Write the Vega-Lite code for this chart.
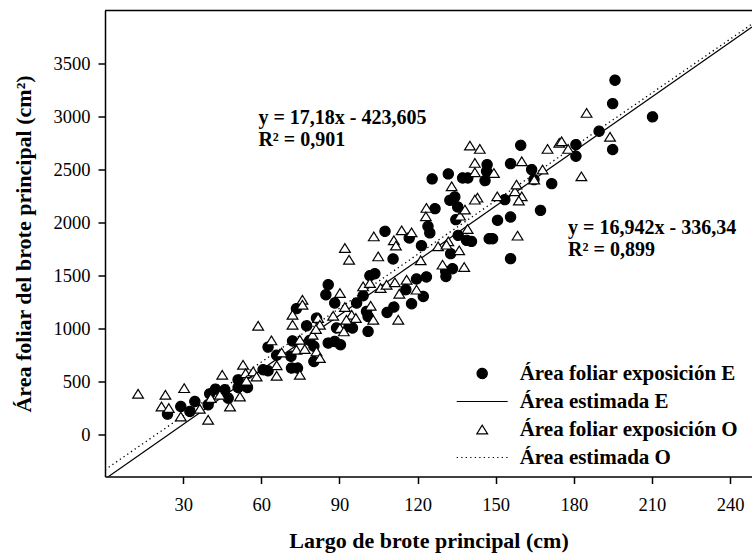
{
  "$schema": "https://vega.github.io/schema/vega-lite/v6.json",
  "width": 647,
  "height": 466,
  "autosize": "none",
  "padding": {"left": 105, "top": 10.5, "right": 0, "bottom": 78.5},
  "background": "white",
  "config": {
    "view": {"stroke": null},
    "font": "Liberation Serif",
    "axis": {
      "grid": false,
      "domainColor": "black",
      "domainWidth": 1.5,
      "tickColor": "black",
      "tickWidth": 1.5,
      "tickSize": 7,
      "labelColor": "black",
      "labelFont": "Liberation Serif",
      "labelFontSize": 18.5,
      "titleColor": "black",
      "titleFont": "Liberation Serif",
      "titleFontSize": 22,
      "titleFontWeight": "bold"
    },
    "legend": {
      "title": null,
      "padding": 0,
      "clipHeight": 22,
      "rowPadding": 6,
      "labelOffset": 11,
      "labelFont": "Liberation Serif",
      "labelFontSize": 21,
      "labelFontWeight": "bold",
      "labelColor": "black",
      "labelLimit": 0,
      "symbolStrokeColor": "black",
      "symbolStrokeWidth": 1.2,
      "symbolSize": 2600,
      "symbolOpacity": 1
    }
  },
  "datasets": {
    "puntos": [
      {"largo": 24.0, "area": 189, "serie": "Área foliar exposición E"},
      {"largo": 29.1, "area": 261, "serie": "Área foliar exposición E"},
      {"largo": 32.6, "area": 214, "serie": "Área foliar exposición E"},
      {"largo": 34.5, "area": 308, "serie": "Área foliar exposición E"},
      {"largo": 39.6, "area": 277, "serie": "Área foliar exposición E"},
      {"largo": 40.2, "area": 381, "serie": "Área foliar exposición E"},
      {"largo": 42.4, "area": 425, "serie": "Área foliar exposición E"},
      {"largo": 46.0, "area": 419, "serie": "Área foliar exposición E"},
      {"largo": 47.3, "area": 340, "serie": "Área foliar exposición E"},
      {"largo": 51.1, "area": 513, "serie": "Área foliar exposición E"},
      {"largo": 51.1, "area": 440, "serie": "Área foliar exposición E"},
      {"largo": 54.7, "area": 440, "serie": "Área foliar exposición E"},
      {"largo": 60.7, "area": 608, "serie": "Área foliar exposición E"},
      {"largo": 62.6, "area": 598, "serie": "Área foliar exposición E"},
      {"largo": 62.6, "area": 822, "serie": "Área foliar exposición E"},
      {"largo": 65.9, "area": 745, "serie": "Área foliar exposición E"},
      {"largo": 71.6, "area": 624, "serie": "Área foliar exposición E"},
      {"largo": 73.9, "area": 624, "serie": "Área foliar exposición E"},
      {"largo": 80.2, "area": 686, "serie": "Área foliar exposición E"},
      {"largo": 71.4, "area": 735, "serie": "Área foliar exposición E"},
      {"largo": 72.0, "area": 880, "serie": "Área foliar exposición E"},
      {"largo": 78.6, "area": 885, "serie": "Área foliar exposición E"},
      {"largo": 80.2, "area": 830, "serie": "Área foliar exposición E"},
      {"largo": 85.7, "area": 860, "serie": "Área foliar exposición E"},
      {"largo": 88.2, "area": 875, "serie": "Área foliar exposición E"},
      {"largo": 90.4, "area": 844, "serie": "Área foliar exposición E"},
      {"largo": 73.5, "area": 1185, "serie": "Área foliar exposición E"},
      {"largo": 77.4, "area": 1023, "serie": "Área foliar exposición E"},
      {"largo": 81.2, "area": 1096, "serie": "Área foliar exposición E"},
      {"largo": 84.8, "area": 1316, "serie": "Área foliar exposición E"},
      {"largo": 85.7, "area": 1411, "serie": "Área foliar exposición E"},
      {"largo": 88.2, "area": 1238, "serie": "Área foliar exposición E"},
      {"largo": 88.9, "area": 1002, "serie": "Área foliar exposición E"},
      {"largo": 93.7, "area": 1017, "serie": "Área foliar exposición E"},
      {"largo": 95.0, "area": 1002, "serie": "Área foliar exposición E"},
      {"largo": 96.6, "area": 1238, "serie": "Área foliar exposición E"},
      {"largo": 99.1, "area": 1307, "serie": "Área foliar exposición E"},
      {"largo": 100.4, "area": 1159, "serie": "Área foliar exposición E"},
      {"largo": 101.0, "area": 1111, "serie": "Área foliar exposición E"},
      {"largo": 101.0, "area": 970, "serie": "Área foliar exposición E"},
      {"largo": 101.7, "area": 1496, "serie": "Área foliar exposición E"},
      {"largo": 103.6, "area": 1515, "serie": "Área foliar exposición E"},
      {"largo": 107.5, "area": 1915, "serie": "Área foliar exposición E"},
      {"largo": 108.3, "area": 1149, "serie": "Área foliar exposición E"},
      {"largo": 110.9, "area": 1200, "serie": "Área foliar exposición E"},
      {"largo": 110.6, "area": 1654, "serie": "Área foliar exposición E"},
      {"largo": 115.5, "area": 1364, "serie": "Área foliar exposición E"},
      {"largo": 116.8, "area": 1852, "serie": "Área foliar exposición E"},
      {"largo": 117.7, "area": 1231, "serie": "Área foliar exposición E"},
      {"largo": 119.6, "area": 1465, "serie": "Área foliar exposición E"},
      {"largo": 121.5, "area": 1780, "serie": "Área foliar exposición E"},
      {"largo": 122.2, "area": 1300, "serie": "Área foliar exposición E"},
      {"largo": 123.4, "area": 1484, "serie": "Área foliar exposición E"},
      {"largo": 124.0, "area": 1962, "serie": "Área foliar exposición E"},
      {"largo": 124.7, "area": 1900, "serie": "Área foliar exposición E"},
      {"largo": 125.6, "area": 2410, "serie": "Área foliar exposición E"},
      {"largo": 126.7, "area": 2129, "serie": "Área foliar exposición E"},
      {"largo": 130.8, "area": 1537, "serie": "Área foliar exposición E"},
      {"largo": 130.9, "area": 1489, "serie": "Área foliar exposición E"},
      {"largo": 131.8, "area": 2457, "serie": "Área foliar exposición E"},
      {"largo": 132.4, "area": 2208, "serie": "Área foliar exposición E"},
      {"largo": 132.7, "area": 1704, "serie": "Área foliar exposición E"},
      {"largo": 133.4, "area": 1562, "serie": "Área foliar exposición E"},
      {"largo": 134.3, "area": 2240, "serie": "Área foliar exposición E"},
      {"largo": 134.7, "area": 2025, "serie": "Área foliar exposición E"},
      {"largo": 135.4, "area": 2145, "serie": "Área foliar exposición E"},
      {"largo": 135.6, "area": 1877, "serie": "Área foliar exposición E"},
      {"largo": 137.3, "area": 2419, "serie": "Área foliar exposición E"},
      {"largo": 139.3, "area": 2419, "serie": "Área foliar exposición E"},
      {"largo": 138.8, "area": 1830, "serie": "Área foliar exposición E"},
      {"largo": 140.7, "area": 1820, "serie": "Área foliar exposición E"},
      {"largo": 146.7, "area": 2545, "serie": "Área foliar exposición E"},
      {"largo": 146.5, "area": 2482, "serie": "Área foliar exposición E"},
      {"largo": 145.9, "area": 2394, "serie": "Área foliar exposición E"},
      {"largo": 147.5, "area": 1845, "serie": "Área foliar exposición E"},
      {"largo": 148.8, "area": 1845, "serie": "Área foliar exposición E"},
      {"largo": 150.7, "area": 2019, "serie": "Área foliar exposición E"},
      {"largo": 153.5, "area": 2214, "serie": "Área foliar exposición E"},
      {"largo": 155.7, "area": 2554, "serie": "Área foliar exposición E"},
      {"largo": 155.7, "area": 2050, "serie": "Área foliar exposición E"},
      {"largo": 155.7, "area": 1657, "serie": "Área foliar exposición E"},
      {"largo": 159.6, "area": 2727, "serie": "Área foliar exposición E"},
      {"largo": 163.8, "area": 2498, "serie": "Área foliar exposición E"},
      {"largo": 164.7, "area": 2403, "serie": "Área foliar exposición E"},
      {"largo": 167.2, "area": 2113, "serie": "Área foliar exposición E"},
      {"largo": 171.5, "area": 2365, "serie": "Área foliar exposición E"},
      {"largo": 180.8, "area": 2734, "serie": "Área foliar exposición E"},
      {"largo": 180.8, "area": 2624, "serie": "Área foliar exposición E"},
      {"largo": 189.7, "area": 2860, "serie": "Área foliar exposición E"},
      {"largo": 194.9, "area": 3121, "serie": "Área foliar exposición E"},
      {"largo": 195.8, "area": 3342, "serie": "Área foliar exposición E"},
      {"largo": 194.9, "area": 2687, "serie": "Área foliar exposición E"},
      {"largo": 210.2, "area": 2996, "serie": "Área foliar exposición E"},
      {"largo": 12.7, "area": 381, "serie": "Área foliar exposición O"},
      {"largo": 23.2, "area": 371, "serie": "Área foliar exposición O"},
      {"largo": 21.7, "area": 261, "serie": "Área foliar exposición O"},
      {"largo": 24.5, "area": 246, "serie": "Área foliar exposición O"},
      {"largo": 30.4, "area": 434, "serie": "Área foliar exposición O"},
      {"largo": 29.1, "area": 166, "serie": "Área foliar exposición O"},
      {"largo": 36.4, "area": 239, "serie": "Área foliar exposición O"},
      {"largo": 39.6, "area": 135, "serie": "Área foliar exposición O"},
      {"largo": 45.0, "area": 560, "serie": "Área foliar exposición O"},
      {"largo": 40.6, "area": 340, "serie": "Área foliar exposición O"},
      {"largo": 44.1, "area": 371, "serie": "Área foliar exposición O"},
      {"largo": 48.0, "area": 261, "serie": "Área foliar exposición O"},
      {"largo": 51.8, "area": 355, "serie": "Área foliar exposición O"},
      {"largo": 53.0, "area": 655, "serie": "Área foliar exposición O"},
      {"largo": 54.0, "area": 575, "serie": "Área foliar exposición O"},
      {"largo": 54.3, "area": 505, "serie": "Área foliar exposición O"},
      {"largo": 56.9, "area": 592, "serie": "Área foliar exposición O"},
      {"largo": 58.2, "area": 544, "serie": "Área foliar exposición O"},
      {"largo": 58.8, "area": 1023, "serie": "Área foliar exposición O"},
      {"largo": 63.9, "area": 885, "serie": "Área foliar exposición O"},
      {"largo": 67.8, "area": 771, "serie": "Área foliar exposición O"},
      {"largo": 65.9, "area": 650, "serie": "Área foliar exposición O"},
      {"largo": 65.9, "area": 551, "serie": "Área foliar exposición O"},
      {"largo": 72.0, "area": 1127, "serie": "Área foliar exposición O"},
      {"largo": 72.0, "area": 1033, "serie": "Área foliar exposición O"},
      {"largo": 75.8, "area": 1269, "serie": "Área foliar exposición O"},
      {"largo": 75.8, "area": 1222, "serie": "Área foliar exposición O"},
      {"largo": 74.8, "area": 891, "serie": "Área foliar exposición O"},
      {"largo": 73.5, "area": 797, "serie": "Área foliar exposición O"},
      {"largo": 76.7, "area": 803, "serie": "Área foliar exposición O"},
      {"largo": 81.2, "area": 781, "serie": "Área foliar exposición O"},
      {"largo": 82.5, "area": 718, "serie": "Área foliar exposición O"},
      {"largo": 74.8, "area": 560, "serie": "Área foliar exposición O"},
      {"largo": 81.8, "area": 1096, "serie": "Área foliar exposición O"},
      {"largo": 82.5, "area": 1033, "serie": "Área foliar exposición O"},
      {"largo": 79.7, "area": 938, "serie": "Área foliar exposición O"},
      {"largo": 81.0, "area": 992, "serie": "Área foliar exposición O"},
      {"largo": 87.6, "area": 1118, "serie": "Área foliar exposición O"},
      {"largo": 90.2, "area": 1002, "serie": "Área foliar exposición O"},
      {"largo": 91.7, "area": 970, "serie": "Área foliar exposición O"},
      {"largo": 90.2, "area": 1332, "serie": "Área foliar exposición O"},
      {"largo": 92.1, "area": 1200, "serie": "Área foliar exposición O"},
      {"largo": 94.7, "area": 1127, "serie": "Área foliar exposición O"},
      {"largo": 96.3, "area": 1096, "serie": "Área foliar exposición O"},
      {"largo": 92.7, "area": 1080, "serie": "Área foliar exposición O"},
      {"largo": 92.1, "area": 1758, "serie": "Área foliar exposición O"},
      {"largo": 93.7, "area": 1647, "serie": "Área foliar exposición O"},
      {"largo": 99.1, "area": 1395, "serie": "Área foliar exposición O"},
      {"largo": 101.7, "area": 1427, "serie": "Área foliar exposición O"},
      {"largo": 102.0, "area": 1212, "serie": "Área foliar exposición O"},
      {"largo": 103.0, "area": 1080, "serie": "Área foliar exposición O"},
      {"largo": 103.2, "area": 1867, "serie": "Área foliar exposición O"},
      {"largo": 104.9, "area": 1678, "serie": "Área foliar exposición O"},
      {"largo": 105.8, "area": 1380, "serie": "Área foliar exposición O"},
      {"largo": 108.1, "area": 1411, "serie": "Área foliar exposición O"},
      {"largo": 110.9, "area": 1830, "serie": "Área foliar exposición O"},
      {"largo": 111.7, "area": 1780, "serie": "Área foliar exposición O"},
      {"largo": 111.3, "area": 1433, "serie": "Área foliar exposición O"},
      {"largo": 112.6, "area": 1080, "serie": "Área foliar exposición O"},
      {"largo": 113.0, "area": 1326, "serie": "Área foliar exposición O"},
      {"largo": 113.9, "area": 1924, "serie": "Área foliar exposición O"},
      {"largo": 115.8, "area": 1458, "serie": "Área foliar exposición O"},
      {"largo": 117.7, "area": 1905, "serie": "Área foliar exposición O"},
      {"largo": 119.6, "area": 1364, "serie": "Área foliar exposición O"},
      {"largo": 121.2, "area": 1641, "serie": "Área foliar exposición O"},
      {"largo": 123.4, "area": 2136, "serie": "Área foliar exposición O"},
      {"largo": 123.2, "area": 2056, "serie": "Área foliar exposición O"},
      {"largo": 127.9, "area": 1773, "serie": "Área foliar exposición O"},
      {"largo": 129.6, "area": 1600, "serie": "Área foliar exposición O"},
      {"largo": 131.8, "area": 1820, "serie": "Área foliar exposición O"},
      {"largo": 131.1, "area": 1789, "serie": "Área foliar exposición O"},
      {"largo": 133.1, "area": 2340, "serie": "Área foliar exposición O"},
      {"largo": 136.0, "area": 1735, "serie": "Área foliar exposición O"},
      {"largo": 136.3, "area": 2063, "serie": "Área foliar exposición O"},
      {"largo": 137.9, "area": 1578, "serie": "Área foliar exposición O"},
      {"largo": 138.2, "area": 2120, "serie": "Área foliar exposición O"},
      {"largo": 139.2, "area": 1937, "serie": "Área foliar exposición O"},
      {"largo": 140.1, "area": 2724, "serie": "Área foliar exposición O"},
      {"largo": 143.9, "area": 2693, "serie": "Área foliar exposición O"},
      {"largo": 142.0, "area": 2561, "serie": "Área foliar exposición O"},
      {"largo": 142.0, "area": 2472, "serie": "Área foliar exposición O"},
      {"largo": 143.0, "area": 2233, "serie": "Área foliar exposición O"},
      {"largo": 142.0, "area": 2214, "serie": "Área foliar exposición O"},
      {"largo": 149.3, "area": 2466, "serie": "Área foliar exposición O"},
      {"largo": 150.6, "area": 2245, "serie": "Área foliar exposición O"},
      {"largo": 157.4, "area": 2293, "serie": "Área foliar exposición O"},
      {"largo": 160.0, "area": 2245, "serie": "Área foliar exposición O"},
      {"largo": 158.9, "area": 2205, "serie": "Área foliar exposición O"},
      {"largo": 158.4, "area": 1874, "serie": "Área foliar exposición O"},
      {"largo": 158.0, "area": 2356, "serie": "Área foliar exposición O"},
      {"largo": 160.0, "area": 2576, "serie": "Área foliar exposición O"},
      {"largo": 164.8, "area": 2403, "serie": "Área foliar exposición O"},
      {"largo": 168.0, "area": 2498, "serie": "Área foliar exposición O"},
      {"largo": 169.9, "area": 2693, "serie": "Área foliar exposición O"},
      {"largo": 174.4, "area": 2750, "serie": "Área foliar exposición O"},
      {"largo": 175.3, "area": 2765, "serie": "Área foliar exposición O"},
      {"largo": 177.8, "area": 2693, "serie": "Área foliar exposición O"},
      {"largo": 182.9, "area": 2434, "serie": "Área foliar exposición O"},
      {"largo": 184.9, "area": 3033, "serie": "Área foliar exposición O"},
      {"largo": 193.9, "area": 2807, "serie": "Área foliar exposición O"}
    ],
    "lineaE": [
      {"largo": 0, "area": -423.605},
      {"largo": 248.4, "area": 3843.9}
    ],
    "lineaO": [
      {"largo": 0, "area": -336.34},
      {"largo": 248.4, "area": 3872.0}
    ]
  },
  "layer": [
    {
      "data": {"values": [{}]},
      "mark": {"type": "rule", "color": "black", "strokeWidth": 1.5},
      "encoding": {
        "y": {"datum": 4000, "type": "quantitative", "scale": {"domain": [-400, 4000], "nice": false, "zero": false}}
      }
    },
    {
      "data": {"name": "lineaE"},
      "mark": {"type": "line", "color": "black", "strokeWidth": 1.2, "clip": true},
      "encoding": {
        "x": {"field": "largo", "type": "quantitative"},
        "y": {"field": "area", "type": "quantitative"}
      }
    },
    {
      "data": {"name": "lineaO"},
      "mark": {"type": "line", "color": "black", "strokeWidth": 1.3, "strokeDash": [1.3, 3.2], "clip": true},
      "encoding": {
        "x": {"field": "largo", "type": "quantitative"},
        "y": {"field": "area", "type": "quantitative"}
      }
    },
    {
      "data": {"name": "puntos"},
      "mark": {"type": "point", "filled": true, "size": 2600, "opacity": 1, "strokeWidth": 1.2},
      "encoding": {
        "x": {
          "field": "largo", "type": "quantitative",
          "scale": {"domain": [0, 248.4], "nice": false, "zero": false},
          "axis": {"values": [30, 60, 90, 120, 150, 180, 210, 240], "title": "Largo de brote principal (cm)", "labelPadding": 12, "titlePadding": 16}
        },
        "y": {
          "field": "area", "type": "quantitative",
          "scale": {"domain": [-400, 4000], "nice": false, "zero": false},
          "axis": {"values": [0, 500, 1000, 1500, 2000, 2500, 3000, 3500], "format": "d", "title": "Área foliar del brote principal (cm²)", "labelPadding": 8, "titlePadding": 18}
        },
        "shape": {
          "field": "serie", "type": "nominal",
          "scale": {
            "domain": ["Área foliar exposición E", "Área estimada E", "Área foliar exposición O", "Área estimada O"],
            "range": ["M-0.2,0A0.2,0.2,0,1,0,0.2,0A0.2,0.2,0,1,0,-0.2,0Z", "M-1,0L1,0", "M0,-0.17L0.21,0.17L-0.21,0.17Z", "M-1,0L1,0"]
          },
          "legend": {"orient": "none", "legendX": 350.7, "legendY": 352}
        },
        "fill": {
          "field": "serie", "type": "nominal",
          "scale": {
            "domain": ["Área foliar exposición E", "Área estimada E", "Área foliar exposición O", "Área estimada O"],
            "range": ["black", "transparent", "white", "transparent"]
          },
          "legend": {"orient": "none", "legendX": 350.7, "legendY": 352}
        },
        "stroke": {
          "field": "serie", "type": "nominal",
          "scale": {
            "domain": ["Área foliar exposición E", "Área estimada E", "Área foliar exposición O", "Área estimada O"],
            "range": ["black", "black", "black", "black"]
          },
          "legend": {"orient": "none", "legendX": 350.7, "legendY": 352}
        },
        "strokeDash": {
          "field": "serie", "type": "nominal",
          "scale": {
            "domain": ["Área foliar exposición E", "Área estimada E", "Área foliar exposición O", "Área estimada O"],
            "range": [[1, 0], [1, 0], [1, 0], [1.3, 3.2]]
          },
          "legend": {"orient": "none", "legendX": 350.7, "legendY": 352}
        }
      }
    },
    {
      "data": {"values": [{}]},
      "mark": {"type": "text", "align": "left", "baseline": "middle", "font": "Liberation Serif", "fontWeight": "bold", "fontSize": 20, "color": "black"},
      "encoding": {
        "x": {"datum": 58.9, "type": "quantitative"},
        "y": {"datum": 2989, "type": "quantitative"},
        "text": {"value": "y = 17,18x - 423,605"}
      }
    },
    {
      "data": {"values": [{}]},
      "mark": {"type": "text", "align": "left", "baseline": "middle", "font": "Liberation Serif", "fontWeight": "bold", "fontSize": 20, "color": "black"},
      "encoding": {
        "x": {"datum": 58.9, "type": "quantitative"},
        "y": {"datum": 2780, "type": "quantitative"},
        "text": {"value": "R² = 0,901"}
      }
    },
    {
      "data": {"values": [{}]},
      "mark": {"type": "text", "align": "left", "baseline": "middle", "font": "Liberation Serif", "fontWeight": "bold", "fontSize": 20, "color": "black"},
      "encoding": {
        "x": {"datum": 177.8, "type": "quantitative"},
        "y": {"datum": 1947, "type": "quantitative"},
        "text": {"value": "y = 16,942x - 336,34"}
      }
    },
    {
      "data": {"values": [{}]},
      "mark": {"type": "text", "align": "left", "baseline": "middle", "font": "Liberation Serif", "fontWeight": "bold", "fontSize": 20, "color": "black"},
      "encoding": {
        "x": {"datum": 177.8, "type": "quantitative"},
        "y": {"datum": 1742, "type": "quantitative"},
        "text": {"value": "R² = 0,899"}
      }
    }
  ]
}
